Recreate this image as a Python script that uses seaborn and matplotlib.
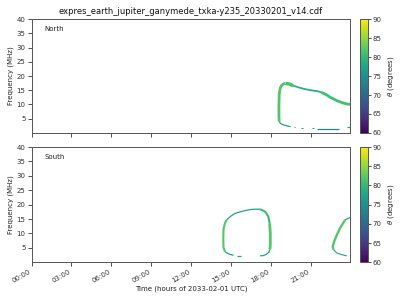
import numpy as np
import matplotlib
matplotlib.use("Agg")
import matplotlib.pyplot as plt
import seaborn as sns
from matplotlib.colors import Normalize
from matplotlib.cm import ScalarMappable

# ---------------- data ----------------
title = "expres_earth_jupiter_ganymede_txka-y235_20330201_v14.cdf"
xtick_hours = [0, 3, 6, 9, 12, 15, 18, 21]
xtick_labels = ["00:00", "03:00", "06:00", "09:00", "12:00", "15:00", "18:00", "21:00"]
ytick_vals = [5, 10, 15, 20, 25, 30, 35, 40]
cbar_ticks = [60, 65, 70, 75, 80, 85, 90]

# North hemisphere traces: time (h), frequency (MHz), theta (deg)
n1_t = [18.64, 18.62, 18.62, 18.64, 18.70, 18.80, 18.95, 19.10]
n1_f = [4.0, 6.0, 10.0, 13.5, 15.5, 16.6, 17.2, 17.4]
n1_theta = 82
n2_t = [19.10, 19.40, 19.70]
n2_f = [17.4, 17.2, 16.6]
n2_theta = 81.5
n3_t = [19.70, 20.10, 20.50, 21.00, 21.50, 21.80]
n3_f = [16.6, 16.0, 15.5, 15.0, 14.7, 14.3]
n3_theta = 79
n4_t = [21.80, 22.20, 22.50, 23.00, 23.40, 23.80, 24.00]
n4_f = [14.3, 13.4, 12.5, 11.3, 10.6, 10.1, 10.1]
n4_theta = 81
n5_t = [18.64, 18.72, 18.85, 19.05, 19.30, 19.50]
n5_f = [4.0, 3.4, 3.0, 2.7, 2.4, 2.2]
n5_theta = 77.5
n6_t = [19.76, 19.86]
n6_f = [2.0, 2.0]
n7_t = [20.29, 20.46]
n7_f = [1.8, 1.8]
n8_t = [21.09, 21.24]
n8_f = [1.7, 1.7]
n9_t = [21.50, 23.17]
n9_f = [1.4, 1.4]
n9_theta = 73.5
n10_t = [23.73, 23.98]
n10_f = [1.9, 1.9]

# South hemisphere traces
s1_t = [14.56, 14.45, 14.43, 14.45, 14.55, 14.69]
s1_f = [3.7, 5.0, 8.0, 11.5, 13.5, 14.7]
s1_theta = 82
s2_t = [14.69, 15.00, 15.30, 15.70, 16.07, 16.50, 16.80, 17.20]
s2_f = [14.7, 16.0, 16.9, 17.5, 17.9, 18.3, 18.4, 18.4]
s2_theta = 77.5
s3_t = [17.20, 17.57, 17.82, 17.92]
s3_f = [18.4, 17.6, 15.9, 13.5]
s3_theta = 80.5
s4_t = [17.92, 17.97, 17.97, 17.94]
s4_f = [13.5, 10.0, 6.0, 4.4]
s4_theta = 82
s5_t = [17.94, 17.85, 17.65, 17.45, 17.20]
s5_f = [4.4, 3.4, 2.7, 2.3, 2.2]
s5_theta = 77.5
s6_t = [14.56, 14.75, 14.94, 15.20]
s6_f = [3.7, 3.1, 2.7, 2.4]
s7_t = [15.45, 15.75]
s7_f = [2.2, 2.2]
s8_t = [23.60, 24.00]
s8_f = [14.7, 15.6]
s8_theta = 77.5
s9_t = [23.60, 23.22, 22.98, 22.77, 22.67, 22.72]
s9_f = [14.7, 11.8, 9.5, 7.1, 5.4, 4.4]
s9_theta = 82
s10_t = [22.72, 22.97, 23.35, 23.73]
s10_f = [4.4, 3.2, 2.6, 2.2]
s10_theta = 77.5

# ---------------- figure ----------------
sns.set_theme(style="ticks")
plt.rcParams["font.family"] = ["DejaVu Sans"]

cmap = plt.get_cmap("viridis")
norm = Normalize(vmin=60, vmax=90)

fig = plt.figure(figsize=(4, 3), dpi=100)
ax_n = fig.add_axes([0.079, 0.557, 0.797, 0.379])
ax_s = fig.add_axes([0.079, 0.126, 0.797, 0.384])
cax_n = fig.add_axes([0.900, 0.557, 0.019, 0.379])
cax_s = fig.add_axes([0.900, 0.126, 0.019, 0.384])


def seg(ax, t, f, theta, lw):
    sns.lineplot(x=t, y=f, ax=ax, color=cmap(norm(theta)), linewidth=lw,
                 sort=False, estimator=None, solid_capstyle="butt")


# north
seg(ax_n, n1_t, n1_f, n1_theta, 2.0)
seg(ax_n, n2_t, n2_f, n2_theta, 2.5)
seg(ax_n, n3_t, n3_f, n3_theta, 1.3)
seg(ax_n, n4_t, n4_f, n4_theta, 2.0)
seg(ax_n, n5_t, n5_f, n5_theta, 0.9)
seg(ax_n, n6_t, n6_f, n5_theta, 0.8)
seg(ax_n, n7_t, n7_f, n5_theta, 0.8)
seg(ax_n, n8_t, n8_f, n5_theta, 0.8)
seg(ax_n, n9_t, n9_f, n9_theta, 0.9)
seg(ax_n, n10_t, n10_f, n5_theta, 0.9)

# south
seg(ax_s, s1_t, s1_f, s1_theta, 1.5)
seg(ax_s, s2_t, s2_f, s2_theta, 0.9)
seg(ax_s, s3_t, s3_f, s3_theta, 1.5)
seg(ax_s, s4_t, s4_f, s4_theta, 2.0)
seg(ax_s, s5_t, s5_f, s5_theta, 0.9)
seg(ax_s, s6_t, s6_f, s5_theta, 0.9)
seg(ax_s, s7_t, s7_f, s5_theta, 0.9)
seg(ax_s, s8_t, s8_f, s8_theta, 0.9)
seg(ax_s, s9_t, s9_f, s9_theta, 1.7)
seg(ax_s, s10_t, s10_f, s10_theta, 0.8)

edge = "#555555"
for ax, name in [(ax_n, "North"), (ax_s, "South")]:
    ax.set_xlim(0, 24)
    ax.set_ylim(0, 40)
    ax.set_xticks(xtick_hours)
    ax.set_yticks(ytick_vals)
    ax.tick_params(labelsize=5, length=3, width=0.6, colors="#333333", pad=1.5)
    ax.set_ylabel("Frequency (MHz)", fontsize=5, labelpad=2, color="#222222")
    ax.text(0.04, 0.91, name, transform=ax.transAxes, fontsize=5, va="center",
            color="#222222")
    for sp in ax.spines.values():
        sp.set_visible(True)
        sp.set_color(edge)
        sp.set_linewidth(0.7)

ax_n.set_xticklabels([])
ax_n.set_xlabel("")
ax_s.set_xticklabels(xtick_labels, rotation=30, ha="right")
ax_s.set_xlabel("Time (hours of 2033-02-01 UTC)", fontsize=5, labelpad=1,
                color="#222222")
ax_n.set_title(title, fontsize=6, pad=4, color="#111111")

for cax in (cax_n, cax_s):
    cb = fig.colorbar(ScalarMappable(norm=norm, cmap=cmap), cax=cax)
    cb.set_ticks(cbar_ticks)
    cb.ax.tick_params(labelsize=5, length=2, width=0.6, colors="#333333", pad=1.5)
    cb.outline.set_edgecolor(edge)
    cb.outline.set_linewidth(0.7)
    cb.set_label(r"$\theta$ (degrees)", fontsize=5, labelpad=3, color="#222222")

fig.savefig("out.png", dpi=100)
